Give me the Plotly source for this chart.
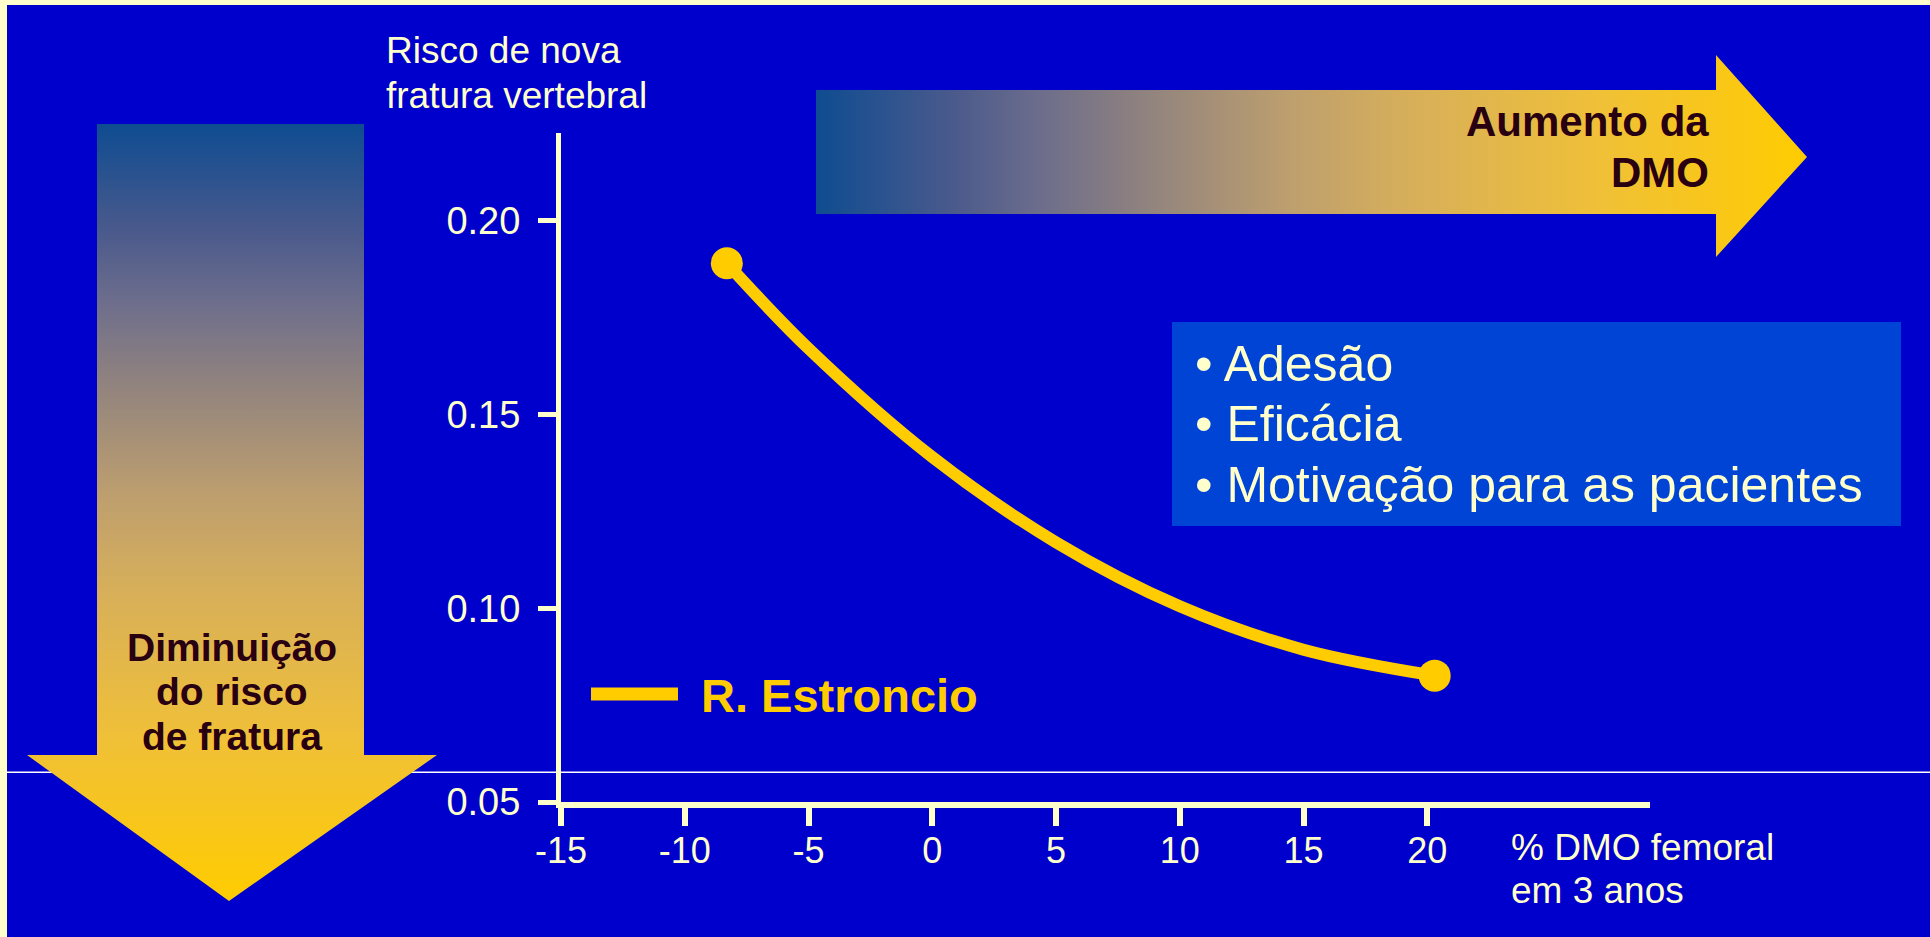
import plotly.graph_objects as go

# ---------------- data ----------------
series_name = "R. Estroncio"
x_pct = [-8.3, -5, 0, 5, 10, 15, 20.3]
y_risk = [0.189, 0.167, 0.139, 0.117, 0.1005, 0.0893, 0.0826]
x_ticks = [-15, -10, -5, 0, 5, 10, 15, 20]
x_ticktext = ["-15", "-10", "-5", "0", "5", "10", "15", "20"]
y_ticks = [0.05, 0.10, 0.15, 0.20]
y_ticktext = ["0.05", "0.10", "0.15", "0.20"]
y_title_lines = ["Risco de nova", "fratura vertebral"]
x_title_lines = ["% DMO femoral", "em 3 anos"]
right_arrow_lines = ["Aumento da", "DMO"]
down_arrow_lines = ["Diminuição", "do risco", "de fratura"]
bullet_lines = ["• Adesão", "• Eficácia", "• Motivação para as pacientes"]

# ---------------- style ----------------
W, H = 1930, 937
BG = "#0000CC"
FRAME = "#FFFFCC"
AXC = "#FFFFCC"
GOLD = "#FFCC00"
DARK = "#280012"
BOX = "#0044D6"
FONT = "Liberation Sans, Arial, Helvetica, sans-serif"
GRAD = [[0.0, "#0E4C91"], [0.14, "#4B5A8C"], [0.23, "#6E6E8C"], [0.32, "#8C8080"],
        [0.48, "#BE9F6E"], [0.60, "#D7AF5A"], [0.79, "#F0C038"], [1.0, "#FFCC00"]]

# decoration geometry in page pixels (overlay axes x2/y2)
down_arrow_x = [97, 364, 364, 437, 229, 27, 97, 97]
down_arrow_y = [124, 124, 755, 755, 901, 755, 755, 124]
right_arrow_x = [816, 1716, 1716, 1807, 1716, 1716, 816, 816]
right_arrow_y = [90, 90, 55, 157, 257, 214, 214, 90]

fig = go.Figure()

# main data curve
fig.add_trace(go.Scatter(
    x=x_pct, y=y_risk, name=series_name, mode="lines",
    line=dict(color=GOLD, width=12, shape="spline", smoothing=1.0),
    hoverinfo="skip", xaxis="x", yaxis="y"))
# end-point markers
fig.add_trace(go.Scatter(
    x=[x_pct[0], x_pct[-1]], y=[y_risk[0], y_risk[-1]], mode="markers",
    marker=dict(color=GOLD, size=32, opacity=1, line=dict(width=0)),
    hoverinfo="skip", xaxis="x", yaxis="y"))

# gradient arrows
fig.add_trace(go.Scatter(
    x=down_arrow_x, y=down_arrow_y, mode="lines", fill="toself",
    line=dict(width=0, color="rgba(0,0,0,0)"),
    fillgradient=dict(type="vertical", colorscale=GRAD, start=124, stop=901),
    hoverinfo="skip", xaxis="x2", yaxis="y2"))
fig.add_trace(go.Scatter(
    x=right_arrow_x, y=right_arrow_y, mode="lines", fill="toself",
    line=dict(width=0, color="rgba(0,0,0,0)"),
    fillgradient=dict(type="horizontal", colorscale=GRAD, start=816, stop=1807),
    hoverinfo="skip", xaxis="x2", yaxis="y2"))

# legend line (drawn in page pixels)
fig.add_trace(go.Scatter(
    x=[591, 678], y=[694, 694], mode="lines", line=dict(color=GOLD, width=13),
    hoverinfo="skip", xaxis="x2", yaxis="y2"))

shapes = [
    dict(type="rect", xref="paper", yref="paper", x0=7 / W, x1=1.0, y0=0, y1=1 - 5 / H,
         fillcolor=BG, line=dict(width=0), layer="below"),
    dict(type="line", xref="paper", yref="paper", x0=7 / W, x1=1.0,
         y0=1 - 772.3 / H, y1=1 - 772.3 / H, line=dict(color="white", width=1.5), layer="below"),
    dict(type="rect", xref="paper", yref="paper", x0=1172 / W, x1=1901 / W,
         y0=1 - 526 / H, y1=1 - 322 / H, fillcolor=BOX, line=dict(width=0), layer="below"),
]

ann = []
def add_lines(lines, x, ys, size, color, xanchor, bold=False):
    for t, yy in zip(lines, ys):
        ann.append(dict(text=("<b>%s</b>" % t) if bold else t, x=x, y=yy,
                        xref="x2", yref="y2", showarrow=False,
                        xanchor=xanchor, yanchor="middle",
                        font=dict(family=FONT, size=size, color=color)))

add_lines(y_title_lines, 384, [50.4, 95.4], 37, AXC, "left")
add_lines(x_title_lines, 1509, [847, 890], 37, AXC, "left")
add_lines(right_arrow_lines, 1711, [121.3, 172], 42, DARK, "right", bold=True)
add_lines(down_arrow_lines, 232, [647, 691.5, 736.5], 39, DARK, "center", bold=True)
add_lines(bullet_lines, 1193, [363.5, 423.5, 484.5], 50, AXC, "left")
add_lines([series_name], 699, [695.3], 47, GOLD, "left", bold=True)

fig.update_layout(
    template="none",
    width=W, height=H, margin=dict(l=0, r=0, t=0, b=0, pad=0), autosize=False,
    paper_bgcolor=FRAME, plot_bgcolor="rgba(0,0,0,0)", showlegend=False,
    shapes=shapes, annotations=ann,
    xaxis=dict(domain=[561 / W, 1650 / W], range=[-15, 29], anchor="y", automargin=False,
               tickvals=x_ticks, ticktext=x_ticktext, ticks="outside", ticklen=18,
               tickwidth=6, tickcolor=AXC,
               showline=True, linewidth=6, linecolor=AXC, showgrid=False, zeroline=False,
               tickfont=dict(family=FONT, size=36, color=AXC), ticklabelstandoff=-6,
               fixedrange=True),
    yaxis=dict(domain=[1 - 802 / H, 1 - 133 / H], range=[0.05, 0.2226], anchor="x",
               automargin=False,
               tickvals=y_ticks, ticktext=y_ticktext, ticks="outside", ticklen=18,
               tickwidth=5, tickcolor=AXC, showline=True, linewidth=5, linecolor=AXC,
               showgrid=False, zeroline=False,
               tickfont=dict(family=FONT, size=38, color=AXC), ticklabelstandoff=10,
               fixedrange=True),
    xaxis2=dict(domain=[0, 1], range=[0, W], anchor="y2", visible=False, fixedrange=True,
                automargin=False),
    yaxis2=dict(domain=[0, 1], range=[H, 0], anchor="x2", visible=False, fixedrange=True,
                automargin=False),
)

fig.write_html("out.html", config={"displayModeBar": False},
               post_script="document.body.style.margin='0px';document.body.style.overflow='hidden';")
